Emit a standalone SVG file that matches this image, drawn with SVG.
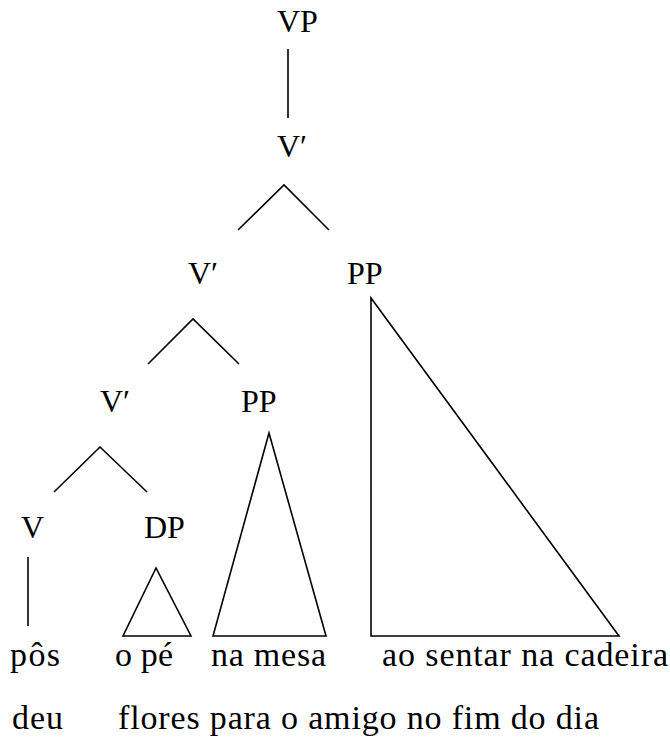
<svg xmlns="http://www.w3.org/2000/svg" width="670" height="738" viewBox="0 0 670 738">
<rect width="670" height="738" fill="#fff"/>
<g id="VP"><text font-family="Liberation Serif" font-size="32" x="277" y="32">VP</text></g>
<g id="Vbar1"><text font-family="Liberation Serif" font-size="32" x="277" y="157">V&#8242;</text></g>
<g id="Vbar2"><text font-family="Liberation Serif" font-size="32" x="188" y="284">V&#8242;</text></g>
<g id="PP1"><text font-family="Liberation Serif" font-size="32" x="347" y="284">PP</text></g>
<g id="Vbar3"><text font-family="Liberation Serif" font-size="32" x="100" y="412">V&#8242;</text></g>
<g id="PP2"><text font-family="Liberation Serif" font-size="32" x="241" y="412">PP</text></g>
<g id="V"><text font-family="Liberation Serif" font-size="32" x="21" y="538">V</text></g>
<g id="DP"><text font-family="Liberation Serif" font-size="32" x="144" y="538">DP</text></g>
<g id="words">
<text font-family="Liberation Serif" font-size="34" x="10" y="666" textLength="50">p&#244;s</text>
<text font-family="Liberation Serif" font-size="34" x="115" y="666" textLength="58">o p&#233;</text>
<text font-family="Liberation Serif" font-size="34" x="211" y="666" textLength="115">na mesa</text>
<text font-family="Liberation Serif" font-size="34" x="382" y="666" textLength="286">ao sentar na cadeira</text>
<text font-family="Liberation Serif" font-size="34" x="12" y="729" textLength="51">deu</text>
<text font-family="Liberation Serif" font-size="34" x="118" y="729" textLength="481">flores para o amigo no fim do dia</text>
</g>
<g id="connectors" stroke="#000" stroke-width="1.6" fill="none">
<line x1="288" y1="49" x2="288" y2="118"/>
<polyline points="238,230 284,185 329,230"/>
<polyline points="148,364 193,319 239,364"/>
<polyline points="54,492 100,447 147,492"/>
<line x1="28" y1="557" x2="28" y2="626"/>
<polygon points="156,568 123,636 191,636"/>
<polygon points="269,433 213,636 326,636"/>
<polygon points="371,298 371,636 619,636"/>
</g>
</svg>
